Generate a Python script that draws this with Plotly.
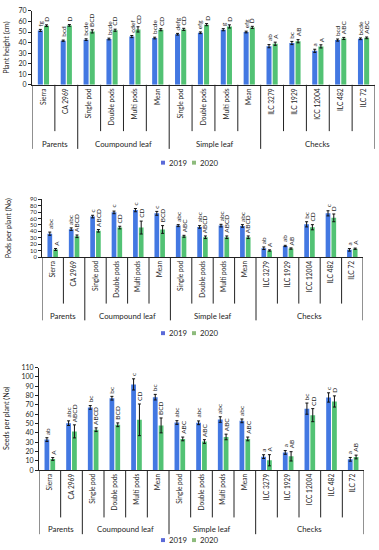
import plotly.graph_objects as go

# ---------------- data ----------------
categories = ["Sierra", "CA 2969", "Single pod", "Double pods", "Multi pods", "Mean",
              "Single pod", "Double pods", "Multi pods", "Mean",
              "ILC 3279", "ILC 1929", "ICC 12004", "ILC 482", "ILC 72"]
groups = ["Parents", "Coumpound leaf", "Simple leaf", "Checks"]
group_sizes = [2, 4, 4, 5]
years = ["2019", "2020"]

height_2019 = [51.5, 41.8, 42.8, 43.4, 45.7, 44.3, 47.9, 49.3, 52.2, 50.0, 36.6, 39.6, 32.2, 42.4, 43.6]
height_2020 = [56.0, 56.3, 50.6, 51.7, 52.5, 52.2, 52.5, 57.0, 55.3, 54.4, 38.9, 41.3, 36.4, 43.9, 44.5]
height_err_2019 = [1.0, 0.6, 0.8, 0.8, 1.0, 0.8, 0.8, 0.8, 1.0, 0.8, 1.5, 1.5, 1.5, 1.0, 0.8]
height_err_2020 = [0.8, 0.8, 1.5, 1.0, 2.5, 1.0, 1.0, 1.0, 1.5, 1.0, 1.5, 1.5, 1.5, 1.0, 0.8]
height_let_2019 = ["fg", "bcd", "bcde", "bcde", "cdef", "bcde", "defg", "efg", "g", "efg", "ab", "bc", "a", "bcd", "bcde"]
height_let_2020 = ["D", "D", "BCD", "CD", "CD", "CD", "CD", "D", "D", "D", "A", "AB", "A", "ABC", "ABC"]

pods_2019 = [36.5, 43.5, 63.0, 69.5, 73.0, 68.0, 49.0, 47.0, 49.0, 48.5, 14.0, 17.5, 51.0, 68.0, 11.5]
pods_2020 = [12.0, 32.5, 41.0, 46.0, 46.0, 43.0, 32.5, 31.0, 31.0, 31.0, 10.5, 13.5, 46.5, 61.0, 13.2]
pods_err_2019 = [2.5, 2.0, 2.0, 2.0, 2.5, 3.0, 1.5, 2.0, 2.0, 2.0, 2.0, 1.0, 4.0, 4.0, 2.0]
pods_err_2020 = [1.5, 2.0, 2.0, 2.0, 10.0, 6.0, 1.5, 2.0, 2.0, 2.0, 1.0, 1.0, 4.0, 6.0, 1.0]
pods_let_2019 = ["abc", "abc", "c", "c", "c", "c", "abc", "abc", "abc", "abc", "ab", "ab", "bc", "c", "a"]
pods_let_2020 = ["A", "ABCD", "ABCD", "CD", "CD", "BCD", "ABC", "ABCD", "ABCD", "ABCD", "A", "AB", "CD", "D", "A"]

seeds_2019 = [32.8, 50.4, 67.3, 77.2, 92.0, 78.3, 51.1, 50.8, 54.3, 52.9, 14.5, 19.0, 66.0, 78.0, 11.6]
seeds_2020 = [12.0, 41.6, 43.4, 48.7, 54.0, 48.0, 33.5, 30.7, 35.6, 33.5, 10.6, 14.8, 59.0, 73.7, 14.1]
seeds_err_2019 = [2.0, 2.5, 2.0, 2.0, 6.0, 3.0, 2.0, 2.0, 3.0, 2.0, 2.0, 2.0, 6.0, 5.0, 2.0]
seeds_err_2020 = [1.5, 7.0, 2.0, 2.0, 17.0, 8.0, 2.0, 2.0, 3.0, 2.0, 6.0, 5.0, 7.0, 6.0, 2.0]
seeds_let_2019 = ["ab", "abc", "bc", "bc", "c", "bc", "abc", "abc", "abc", "abc", "a", "a", "bc", "c", "a"]
seeds_let_2020 = ["A", "ABCD", "ABCD", "BCD", "CD", "BCD", "ABC", "ABC", "ABC", "ABC", "A", "AB", "CD", "D", "AB"]

y_titles = ["Plant height (cm)", "Pods per plant (No)", "Seeds per plant (No)"]
y_max = [70, 90, 110]

# ---------------- layout (pixels) ----------------
W, H = 379, 550
FONT = "Lato"
TXT = "#262626"
C2019 = "#4378E2"
C2020 = "#52C274"
L2019 = "#5B6AD8"
L2020 = "#8DBB7C"

panels = [
    dict(top=6, bottom=81, left=32, right=375, cat_end=128, grp_end=146, grp_lab=141, leg=160, ytx=7, tf=7),
    dict(top=197, bottom=256, left=42, right=363, cat_end=303, grp_end=320, grp_lab=316, leg=333, ytx=8, tf=5.8),
    dict(top=368, bottom=472, left=39, right=364, cat_end=520, grp_end=537, grp_lab=532, leg=543, ytx=7, tf=7),
]

series = [
    (height_2019, height_2020, height_err_2019, height_err_2020, height_let_2019, height_let_2020),
    (pods_2019, pods_2020, pods_err_2019, pods_err_2020, pods_let_2019, pods_let_2020),
    (seeds_2019, seeds_2020, seeds_err_2019, seeds_err_2020, seeds_let_2019, seeds_let_2020),
]


def px(x):
    return x / W


def py(y):
    return 1 - y / H


fig = go.Figure()
shapes = []
annotations = []
xpos = list(range(len(categories)))
BW = 0.22
OFF = [-0.245, 0.025]

for k, (p, s) in enumerate(zip(panels, series)):
    sfx = "" if k == 0 else str(k + 1)
    xa, ya = "x" + sfx, "y" + sfx
    v19, v20, e19, e20, l19, l20 = s
    for j, (vals, errs, col, name) in enumerate([(v19, e19, C2019, years[0]), (v20, e20, C2020, years[1])]):
        fig.add_trace(go.Bar(
            x=xpos, y=vals, name=name, xaxis=xa, yaxis=ya,
            width=BW, offset=OFF[j], marker=dict(color=col, line=dict(width=0)),
            error_y=dict(type="data", array=errs, color="#111111", thickness=1, width=1.5),
            showlegend=False,
        ))
    fig.layout["xaxis" + sfx] = dict(
        domain=[px(p["left"]), px(p["right"])], anchor=ya, range=[-0.5, len(categories) - 0.5],
        tickmode="array", tickvals=xpos, ticktext=categories, tickangle=-90,
        tickfont=dict(size=6.6, color=TXT, family=FONT), ticks="",
        showline=True, linecolor="#222222", linewidth=1, showgrid=False, zeroline=False,
        fixedrange=True,
    )
    fig.layout["yaxis" + sfx] = dict(
        domain=[py(p["bottom"]), py(p["top"])], anchor=xa, range=[0, y_max[k]], dtick=10,
        tickfont=dict(size=p["tf"], color=TXT, family=FONT), ticks="outside", ticklen=3,
        tickcolor="#222222", showline=True, linecolor="#222222", linewidth=1,
        showgrid=False, zeroline=False, fixedrange=True,
    )
    # y title
    annotations.append(dict(
        text=y_titles[k], x=px(p["ytx"]), y=py((p["top"] + p["bottom"]) / 2),
        xref="paper", yref="paper", textangle=-90, showarrow=False,
        font=dict(size=7.2, color=TXT, family=FONT), xanchor="center", yanchor="middle",
    ))
    # significance letters
    for i in xpos:
        for j, (vals, errs, lets) in enumerate([(v19, e19, l19), (v20, e20, l20)]):
            annotations.append(dict(
                text=lets[i], x=i + OFF[j] + BW / 2, y=vals[i] + errs[i], xref=xa, yref=ya,
                textangle=-90, showarrow=False, xanchor="center", yanchor="bottom", yshift=1,
                font=dict(size=6.5, color=TXT, family=FONT),
            ))
    # separators
    bounds = [-0.5]
    acc = -0.5
    for g in group_sizes:
        acc += g
        bounds.append(acc)
    for b in [i + 0.5 for i in range(-1, len(categories))]:
        end = p["grp_end"] if b in bounds else p["cat_end"]
        shapes.append(dict(type="line", xref=xa, yref="paper", x0=b, x1=b,
                           y0=py(p["bottom"]), y1=py(end), line=dict(color="#222222", width=1)))
    # group labels
    for g, name in enumerate(groups):
        c = (bounds[g] + bounds[g + 1]) / 2
        annotations.append(dict(
            text=name, x=c, y=py(p["grp_lab"]), xref=xa, yref="paper", showarrow=False,
            xanchor="center", yanchor="middle", font=dict(size=7.8, color=TXT, family=FONT),
        ))
    # legend (manual)
    ly = p["leg"]
    for sx, tx, col, name in [(163, 167, L2019, years[0]), (194, 198, L2020, years[1])]:
        shapes.append(dict(type="rect", xref="paper", yref="paper",
                           x0=px(sx - 2), x1=px(sx + 2), y0=py(ly + 2), y1=py(ly - 2),
                           fillcolor=col, line=dict(width=0)))
        annotations.append(dict(
            text=name, x=px(tx), y=py(ly), xref="paper", yref="paper", showarrow=False,
            xanchor="left", yanchor="middle", font=dict(size=7.8, color=TXT, family=FONT),
        ))

fig.update_layout(
    width=W, height=H, margin=dict(l=0, r=0, t=0, b=0),
    paper_bgcolor="white", plot_bgcolor="white",
    barmode="overlay", showlegend=False,
    shapes=shapes, annotations=annotations,
)

fig.write_html("out.html", config={"displayModeBar": False},
               post_script="document.body.style.margin='0';document.body.style.overflow='hidden';")
